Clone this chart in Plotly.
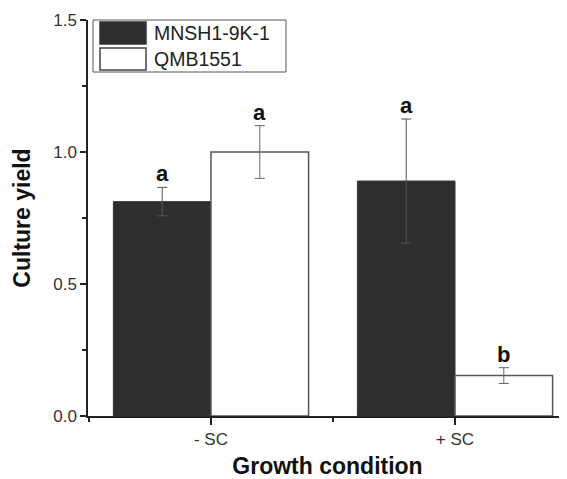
import plotly.graph_objects as go

# ---- data ----
conditions = ["- SC", "+ SC"]
strain_names = ["MNSH1-9K-1", "QMB1551"]
mnsh_values = [0.812, 0.890]
mnsh_errors = [0.054, 0.235]
qmb_values = [1.000, 0.153]
qmb_errors = [0.100, 0.030]
mnsh_letters = ["a", "a"]
qmb_letters = ["a", "b"]
y_ticks = [0.0, 0.5, 1.0, 1.5]

# page is shown with an 8px body margin, compensate
PAD = 8
W, H = 567 - PAD, 479 - PAD
ML, MR, MT, MB = 88 - PAD, 0, 20 - PAD, 63
PW, PH = W - ML - MR, H - MT - MB

FONT = "Liberation Sans, Arial, Helvetica, sans-serif"
DARK = "#2e2e2e"
off = 0.2
xpos = list(range(len(conditions)))

fig = go.Figure()
fig.add_trace(go.Bar(
    x=[i - off for i in xpos], y=mnsh_values, width=0.4, name=strain_names[0],
    marker=dict(color=DARK, line=dict(color="#333333", width=1)),
    error_y=dict(type="data", array=mnsh_errors, color="#555555", thickness=1, width=5),
    showlegend=False,
))
fig.add_trace(go.Bar(
    x=[i + off for i in xpos], y=qmb_values, width=0.4, name=strain_names[1],
    marker=dict(color="white", line=dict(color="#555555", width=1.5)),
    error_y=dict(type="data", array=qmb_errors, color="#666666", thickness=1, width=5),
    showlegend=False,
))

annotations = []
for i in xpos:
    annotations.append(dict(x=i - off, y=mnsh_values[i] + mnsh_errors[i], xref="x", yref="y",
                            text=mnsh_letters[i], showarrow=False, yanchor="bottom", yshift=-1,
                            font=dict(family=FONT, size=22, color="#111111", weight="bold")))
    annotations.append(dict(x=i + off, y=qmb_values[i] + qmb_errors[i], xref="x", yref="y",
                            text=qmb_letters[i], showarrow=False, yanchor="bottom", yshift=-1,
                            font=dict(family=FONT, size=22, color="#111111", weight="bold")))


def px(xp):
    # xp in reference page pixels
    return (xp - PAD - ML) / PW


def py(yp):
    return (H - MB - (yp - PAD)) / PH


shapes = []
# legend box
shapes.append(dict(type="rect", xref="paper", yref="paper", x0=px(93), x1=px(286), y0=py(72), y1=py(20),
                   line=dict(color="#555555", width=1), fillcolor="white", layer="above"))
legend_fills = [DARK, "white"]
legend_lines = ["#333333", "#444444"]
rows = [(22, 44), (48, 70)]
for k, (t, b) in enumerate(rows):
    shapes.append(dict(type="rect", xref="paper", yref="paper", x0=px(100), x1=px(146), y0=py(b), y1=py(t),
                       line=dict(color=legend_lines[k], width=1.5), fillcolor=legend_fills[k], layer="above"))
    annotations.append(dict(x=px(152), y=py((t + b) / 2), xref="paper", yref="paper", text=strain_names[k],
                            showarrow=False, xanchor="left", yanchor="middle",
                            font=dict(family=FONT, size=19.5, color="#222222")))

fig.update_layout(
    width=W, height=H,
    margin=dict(l=ML, r=MR, t=MT, b=MB),
    plot_bgcolor="white", paper_bgcolor="white",
    shapes=shapes, annotations=annotations,
    xaxis=dict(
        range=[-0.504, 1.459], tickvals=xpos, ticktext=conditions,
        showline=True, linecolor="#222222", linewidth=1.5, showgrid=False, zeroline=False,
        ticks="outside", ticklen=7, tickwidth=1.5, tickcolor="#222222",
        minor=dict(ticks="outside", ticklen=4, dtick=0.5, tick0=0, tickcolor="#222222", tickwidth=1.5),
        tickfont=dict(family=FONT, size=17, color="#333333"),
        title=dict(text="Growth condition", standoff=12,
                   font=dict(family=FONT, size=23, color="#111111", weight="bold")),
    ),
    yaxis=dict(
        range=[0, 1.5], tickvals=y_ticks, tickformat=".1f",
        showline=True, linecolor="#222222", linewidth=1.5, showgrid=False, zeroline=False,
        ticks="outside", ticklen=6, tickwidth=1.5, tickcolor="#222222",
        minor=dict(ticks="outside", ticklen=4, dtick=0.25, tick0=0, tickcolor="#222222", tickwidth=1.5),
        tickfont=dict(family=FONT, size=17, color="#333333"),
        title=dict(text="Culture yield", standoff=16,
                   font=dict(family=FONT, size=23, color="#111111", weight="bold")),
    ),
)

fig.write_html("out.html")
